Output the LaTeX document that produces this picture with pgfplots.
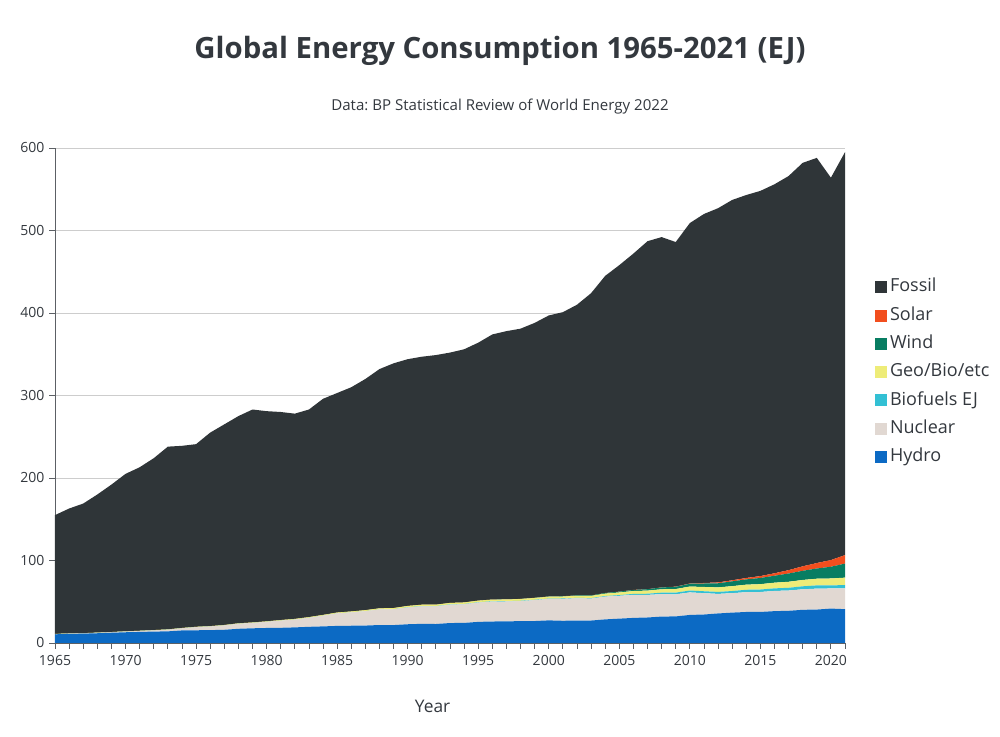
\documentclass[border=0pt]{standalone}
\usepackage{fontspec}
\setmainfont{Open Sans}
\usepackage{pgfplots}
\usepackage{pgfplotstable}
\pgfplotsset{compat=1.18}
\frenchspacing
\definecolor{cFossil}{RGB}{47,53,56}
\definecolor{cSolar}{RGB}{242,78,30}
\definecolor{cWind}{RGB}{8,125,98}
\definecolor{cGeo}{RGB}{238,236,120}
\definecolor{cBio}{RGB}{51,192,212}
\definecolor{cNuc}{RGB}{225,216,210}
\definecolor{cHydro}{RGB}{12,106,196}
\definecolor{txt}{RGB}{51,56,62}
\definecolor{gridc}{RGB}{205,205,205}

\pgfplotstableread{
year H N B G W S F
1965 10.5 0.25 0 0.20 0 0 144.05
1966 11.0 0.35 0 0.21 0 0 151.44
1967 11.3 0.40 0 0.22 0 0 157.08
1968 11.8 0.50 0 0.24 0 0 167.46
1969 12.4 0.60 0 0.27 0 0 178.73
1970 13.0 0.80 0 0.30 0 0 190.90
1971 13.4 1.10 0 0.32 0 0 198.18
1972 13.8 1.50 0 0.34 0 0 208.36
1973 14.1 2.00 0 0.36 0 0 221.54
1974 15.2 2.60 0 0.38 0 0 220.82
1975 15.4 3.80 0 0.40 0 0 221.40
1976 15.6 4.40 0 0.44 0 0 234.56
1977 16.0 5.30 0 0.48 0 0 243.22
1978 17.2 6.10 0 0.52 0 0 251.18
1979 17.8 6.50 0 0.56 0 0 258.14
1980 18.2 7.40 0 0.60 0 0 254.80
1981 18.4 8.70 0 0.68 0 0 252.22
1982 18.9 9.50 0 0.76 0 0 248.84
1983 19.6 10.9 0 0.84 0 0 251.66
1984 20.1 13.0 0 0.92 0 0 261.98
1985 20.7 15.2 0 1.00 0 0 266.10
1986 20.9 16.2 0 1.10 0 0 271.80
1987 21.1 17.5 0 1.20 0 0 280.20
1988 21.8 18.9 0 1.30 0 0 290.00
1989 21.7 19.2 0 1.45 0 0 296.65
1990 22.7 20.3 0.30 1.60 0 0 299.10
1991 23.2 21.2 0.30 1.70 0 0 300.60
1992 23.0 21.4 0.30 1.75 0 0 302.55
1993 24.2 22.2 0.32 1.85 0 0 303.43
1994 24.3 22.6 0.33 1.90 0 0 306.87
1995 25.6 23.4 0.35 2.00 0.04 0 312.61
1996 26.0 24.2 0.36 2.05 0.05 0 321.34
1997 26.3 24.0 0.37 2.10 0.08 0 325.15
1998 26.4 24.4 0.38 2.15 0.12 0 327.55
1999 26.6 25.4 0.39 2.20 0.20 0 333.21
2000 27.4 26.0 0.40 2.30 0.30 0 340.60
2001 26.9 26.6 0.45 2.40 0.40 0 344.25
2002 27.2 27.0 0.50 2.50 0.50 0 352.30
2003 27.2 26.6 0.60 2.65 0.60 0 366.35
2004 28.6 27.6 0.70 2.90 0.80 0 384.40
2005 29.5 27.7 0.85 3.20 1.00 0.04 395.71
2006 30.4 28.0 1.10 3.50 1.30 0.05 407.65
2007 30.9 27.4 1.40 3.80 1.70 0.07 421.73
2008 32.0 27.2 1.80 4.10 2.20 0.13 424.57
2009 32.2 26.8 2.00 4.40 2.70 0.20 417.70
2010 34.0 27.3 2.30 4.80 3.40 0.33 436.87
2011 34.5 25.9 2.30 5.20 4.20 0.65 447.25
2012 35.8 23.7 2.40 5.50 5.00 1.00 453.60
2013 36.8 23.6 2.60 5.90 5.80 1.30 461.00
2014 37.6 24.0 2.90 6.20 6.40 1.70 464.20
2015 37.6 24.2 3.00 6.50 7.50 2.30 466.90
2016 38.6 24.5 3.10 6.90 8.40 3.00 471.50
2017 39.0 24.6 3.30 7.30 10.0 4.10 477.70
2018 40.2 24.9 3.60 7.70 11.1 5.40 489.10
2019 40.5 25.4 3.90 8.10 12.4 6.60 491.10
2020 41.7 24.4 3.60 8.50 14.2 8.10 463.50
2021 41.0 25.3 4.00 8.90 17.0 10.3 488.50
}\energy

\begin{document}
\begin{tikzpicture}
\useasboundingbox (0,0) rectangle (750pt,552.75pt);
\begin{axis}[
  at={(41.25pt,70.5pt)}, anchor=south west,
  scale only axis, width=592.5pt, height=371.25pt,
  xmin=1965, xmax=2021, ymin=0, ymax=600,
  stack plots=y,
  axis x line*=bottom, axis y line*=left,
  axis line style={draw=txt!80, line width=0.6pt},
  xtick={1965,1970,...,2020},
  minor x tick num=4,
  extra x ticks={2021}, extra x tick labels={},
  extra x tick style={grid=none},
  ytick={0,100,...,600},
  ymajorgrids, grid style={draw=gridc, line width=0.6pt},
  tick align=outside,
  major tick length=4.5pt, minor tick length=4.5pt,
  tick style={draw=txt!80, line width=0.6pt},
  x tick label style={/pgf/number format/1000 sep={}, font=\fontsize{10.5}{12}\selectfont, text=txt, yshift=-1pt},
  y tick label style={font=\fontsize{10.5}{12}\selectfont, text=txt},
  /pgf/number format/assume math mode=true,
  xlabel={Year},
  xlabel style={font=\fontsize{13}{15}\selectfont, text=txt, at={(axis description cs:0.478,0)}, anchor=north, yshift=-39pt},
  reverse legend,
  legend cell align=left,
  legend style={at={(1.033,0.742)}, anchor=north west, draw=none, fill=none,
    font=\fontsize{13.5}{16}\selectfont, text=txt,
    row sep=8.2pt, column sep=2pt,
    nodes={inner sep=0pt, text height=10pt, text depth=3pt}},
  legend image code/.code={\fill[#1,draw=none] (0pt,-4.5pt) rectangle (9pt,4.5pt);},
]
\addplot[fill=cHydro, draw=none] table[x=year,y=H] {\energy} \closedcycle;
\addlegendentry{Hydro}
\addplot[fill=cNuc, draw=none] table[x=year,y=N] {\energy} \closedcycle;
\addlegendentry{Nuclear}
\addplot[fill=cBio, draw=none] table[x=year,y=B] {\energy} \closedcycle;
\addlegendentry{Biofuels EJ}
\addplot[fill=cGeo, draw=none] table[x=year,y=G] {\energy} \closedcycle;
\addlegendentry{Geo/Bio/etc}
\addplot[fill=cWind, draw=none] table[x=year,y=W] {\energy} \closedcycle;
\addlegendentry{Wind}
\addplot[fill=cSolar, draw=none] table[x=year,y=S] {\energy} \closedcycle;
\addlegendentry{Solar}
\addplot[fill=cFossil, draw=none] table[x=year,y=F] {\energy} \closedcycle;
\addlegendentry{Fossil}
\end{axis}
\node[text=txt, font=\fontsize{22}{26}\bfseries] at (375pt,514.5pt) {Global Energy Consumption 1965-2021 (EJ)};
\node[text=txt, font=\fontsize{11.3}{13}\selectfont] at (375pt,472.5pt) {Data: BP Statistical Review of World Energy 2022};
\end{tikzpicture}
\end{document}
